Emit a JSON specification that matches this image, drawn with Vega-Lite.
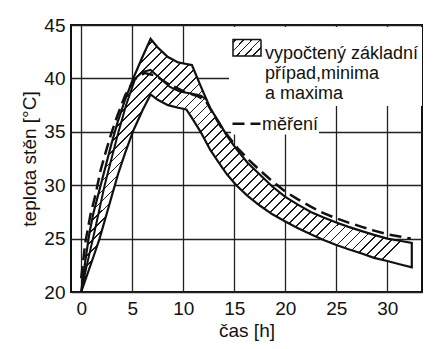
{
  "$schema": "https://vega.github.io/schema/vega-lite/v6.json",
  "width": 351,
  "height": 267,
  "autosize": {"type": "none"},
  "padding": {"left": 71, "top": 25, "right": 17, "bottom": 57},
  "background": "white",
  "datasets": {
    "band": [
      {"t": 0, "lo": 20, "hi": 20},
      {"t": 0.4, "lo": 21.1, "hi": 22.9},
      {"t": 0.8, "lo": 22.2, "hi": 25.5},
      {"t": 1.2, "lo": 23.3, "hi": 27.4},
      {"t": 1.8, "lo": 25.0, "hi": 29.6},
      {"t": 2.4, "lo": 27.0, "hi": 31.8},
      {"t": 3.0, "lo": 29.0, "hi": 34.0},
      {"t": 3.6, "lo": 31.0, "hi": 36.0},
      {"t": 4.3, "lo": 33.0, "hi": 38.0},
      {"t": 5.1, "lo": 35.1, "hi": 40.0},
      {"t": 6.0, "lo": 37.0, "hi": 42.0},
      {"t": 6.8, "lo": 38.5, "hi": 43.7},
      {"t": 7.5, "lo": 38.0, "hi": 42.9},
      {"t": 8.5, "lo": 37.5, "hi": 42.0},
      {"t": 9.5, "lo": 37.25, "hi": 41.5},
      {"t": 10.3, "lo": 37.1, "hi": 41.35},
      {"t": 10.85, "lo": 36.3, "hi": 41.25},
      {"t": 11.7, "lo": 35.0, "hi": 39.3},
      {"t": 12.65, "lo": 33.3, "hi": 37.2},
      {"t": 13.5, "lo": 32.1, "hi": 35.9},
      {"t": 14.3, "lo": 31.0, "hi": 34.6},
      {"t": 15.2, "lo": 30.0, "hi": 33.4},
      {"t": 16.3, "lo": 29.0, "hi": 32.1},
      {"t": 17.5, "lo": 28.1, "hi": 31.0},
      {"t": 18.7, "lo": 27.3, "hi": 29.9},
      {"t": 20, "lo": 26.6, "hi": 28.9},
      {"t": 21.2, "lo": 26.0, "hi": 28.2},
      {"t": 22.5, "lo": 25.4, "hi": 27.5},
      {"t": 23.7, "lo": 24.9, "hi": 27.0},
      {"t": 25, "lo": 24.4, "hi": 26.5},
      {"t": 26.2, "lo": 24.0, "hi": 26.1},
      {"t": 27.5, "lo": 23.6, "hi": 25.7},
      {"t": 28.7, "lo": 23.2, "hi": 25.35},
      {"t": 30, "lo": 22.9, "hi": 25.0},
      {"t": 31.2, "lo": 22.6, "hi": 24.8},
      {"t": 32.4, "lo": 22.3, "hi": 24.6}
    ],
    "basic": [
      {"t": 0, "T": 20},
      {"t": 0.5, "T": 22.3},
      {"t": 1.2, "T": 25.2},
      {"t": 1.8, "T": 27.8},
      {"t": 2.3, "T": 30.0},
      {"t": 3.0, "T": 32.6},
      {"t": 3.6, "T": 34.8},
      {"t": 4.4, "T": 37.5},
      {"t": 5.3, "T": 40.0},
      {"t": 6.0, "T": 40.6},
      {"t": 6.8, "T": 40.8},
      {"t": 7.75, "T": 40.0},
      {"t": 8.7, "T": 39.2},
      {"t": 9.7, "T": 38.75},
      {"t": 10.7, "T": 38.6},
      {"t": 11.7, "T": 38.4},
      {"t": 12.3, "T": 38.0}
    ],
    "measured": [
      {"t": 0, "T": 21.3},
      {"t": 0.4, "T": 24.6},
      {"t": 0.9, "T": 27.2},
      {"t": 1.4, "T": 29.1},
      {"t": 1.9, "T": 31.4},
      {"t": 2.4, "T": 33.1},
      {"t": 2.9, "T": 34.7},
      {"t": 3.5, "T": 36.4},
      {"t": 4.3, "T": 38.4},
      {"t": 5.2, "T": 39.9},
      {"t": 6.2, "T": 40.5},
      {"t": 7.2, "T": 40.3},
      {"t": 8.5, "T": 39.5},
      {"t": 10, "T": 38.8},
      {"t": 11.5, "T": 38.3},
      {"t": 12.2, "T": 37.9},
      {"t": 13.6, "T": 35.6},
      {"t": 15.3, "T": 33.5},
      {"t": 16.5, "T": 32.3},
      {"t": 17.5, "T": 31.4},
      {"t": 18.7, "T": 30.4},
      {"t": 20, "T": 29.4},
      {"t": 21.2, "T": 28.7},
      {"t": 22.5, "T": 28.0},
      {"t": 23.7, "T": 27.4},
      {"t": 25, "T": 26.9},
      {"t": 26.2, "T": 26.5},
      {"t": 27.5, "T": 26.1},
      {"t": 28.7, "T": 25.75},
      {"t": 30, "T": 25.4},
      {"t": 31.2, "T": 25.2},
      {"t": 32.3, "T": 25.0}
    ]
  },
  "encoding": {
    "x": {
      "field": "t",
      "type": "quantitative",
      "scale": {"domain": [-1, 33.4], "nice": false, "zero": false},
      "axis": {
        "values": [0, 5, 10, 15, 20, 25, 30],
        "title": "čas [h]",
        "labelPadding": 7,
        "titlePadding": 3,
        "labelFlush": false
      }
    }
  },
  "resolve": {"scale": {"strokeDash": "independent"}, "legend": {"strokeDash": "independent"}},
  "layer": [
    {
      "data": {"name": "band"},
      "mark": {
        "type": "area",
        "stroke": "#111",
        "strokeWidth": 2.2,
        "strokeJoin": "miter",
        "fill": {
          "gradient": "linear",
          "x1": 0, "y1": 0, "x2": 1, "y2": 0.766,
          "stops": [
            {"offset": 0, "color": "#fff"},
            {"offset": 0.005, "color": "#fff"}, {"offset": 0.005, "color": "#1a1a1a"}, {"offset": 0.0085, "color": "#1a1a1a"}, {"offset": 0.0085, "color": "#fff"},
            {"offset": 0.024, "color": "#fff"}, {"offset": 0.024, "color": "#1a1a1a"}, {"offset": 0.0275, "color": "#1a1a1a"}, {"offset": 0.0275, "color": "#fff"},
            {"offset": 0.043, "color": "#fff"}, {"offset": 0.043, "color": "#1a1a1a"}, {"offset": 0.0465, "color": "#1a1a1a"}, {"offset": 0.0465, "color": "#fff"},
            {"offset": 0.062, "color": "#fff"}, {"offset": 0.062, "color": "#1a1a1a"}, {"offset": 0.0655, "color": "#1a1a1a"}, {"offset": 0.0655, "color": "#fff"},
            {"offset": 0.081, "color": "#fff"}, {"offset": 0.081, "color": "#1a1a1a"}, {"offset": 0.0845, "color": "#1a1a1a"}, {"offset": 0.0845, "color": "#fff"},
            {"offset": 0.1, "color": "#fff"}, {"offset": 0.1, "color": "#1a1a1a"}, {"offset": 0.1035, "color": "#1a1a1a"}, {"offset": 0.1035, "color": "#fff"},
            {"offset": 0.119, "color": "#fff"}, {"offset": 0.119, "color": "#1a1a1a"}, {"offset": 0.1225, "color": "#1a1a1a"}, {"offset": 0.1225, "color": "#fff"},
            {"offset": 0.138, "color": "#fff"}, {"offset": 0.138, "color": "#1a1a1a"}, {"offset": 0.1415, "color": "#1a1a1a"}, {"offset": 0.1415, "color": "#fff"},
            {"offset": 0.157, "color": "#fff"}, {"offset": 0.157, "color": "#1a1a1a"}, {"offset": 0.1605, "color": "#1a1a1a"}, {"offset": 0.1605, "color": "#fff"},
            {"offset": 0.176, "color": "#fff"}, {"offset": 0.176, "color": "#1a1a1a"}, {"offset": 0.1795, "color": "#1a1a1a"}, {"offset": 0.1795, "color": "#fff"},
            {"offset": 0.195, "color": "#fff"}, {"offset": 0.195, "color": "#1a1a1a"}, {"offset": 0.1985, "color": "#1a1a1a"}, {"offset": 0.1985, "color": "#fff"},
            {"offset": 0.214, "color": "#fff"}, {"offset": 0.214, "color": "#1a1a1a"}, {"offset": 0.2175, "color": "#1a1a1a"}, {"offset": 0.2175, "color": "#fff"},
            {"offset": 0.233, "color": "#fff"}, {"offset": 0.233, "color": "#1a1a1a"}, {"offset": 0.2365, "color": "#1a1a1a"}, {"offset": 0.2365, "color": "#fff"},
            {"offset": 0.252, "color": "#fff"}, {"offset": 0.252, "color": "#1a1a1a"}, {"offset": 0.2555, "color": "#1a1a1a"}, {"offset": 0.2555, "color": "#fff"},
            {"offset": 0.271, "color": "#fff"}, {"offset": 0.271, "color": "#1a1a1a"}, {"offset": 0.2745, "color": "#1a1a1a"}, {"offset": 0.2745, "color": "#fff"},
            {"offset": 0.29, "color": "#fff"}, {"offset": 0.29, "color": "#1a1a1a"}, {"offset": 0.2935, "color": "#1a1a1a"}, {"offset": 0.2935, "color": "#fff"},
            {"offset": 0.309, "color": "#fff"}, {"offset": 0.309, "color": "#1a1a1a"}, {"offset": 0.3125, "color": "#1a1a1a"}, {"offset": 0.3125, "color": "#fff"},
            {"offset": 0.328, "color": "#fff"}, {"offset": 0.328, "color": "#1a1a1a"}, {"offset": 0.3315, "color": "#1a1a1a"}, {"offset": 0.3315, "color": "#fff"},
            {"offset": 0.347, "color": "#fff"}, {"offset": 0.347, "color": "#1a1a1a"}, {"offset": 0.3505, "color": "#1a1a1a"}, {"offset": 0.3505, "color": "#fff"},
            {"offset": 0.366, "color": "#fff"}, {"offset": 0.366, "color": "#1a1a1a"}, {"offset": 0.3695, "color": "#1a1a1a"}, {"offset": 0.3695, "color": "#fff"},
            {"offset": 0.385, "color": "#fff"}, {"offset": 0.385, "color": "#1a1a1a"}, {"offset": 0.3885, "color": "#1a1a1a"}, {"offset": 0.3885, "color": "#fff"},
            {"offset": 0.404, "color": "#fff"}, {"offset": 0.404, "color": "#1a1a1a"}, {"offset": 0.4075, "color": "#1a1a1a"}, {"offset": 0.4075, "color": "#fff"},
            {"offset": 0.423, "color": "#fff"}, {"offset": 0.423, "color": "#1a1a1a"}, {"offset": 0.4265, "color": "#1a1a1a"}, {"offset": 0.4265, "color": "#fff"},
            {"offset": 0.442, "color": "#fff"}, {"offset": 0.442, "color": "#1a1a1a"}, {"offset": 0.4455, "color": "#1a1a1a"}, {"offset": 0.4455, "color": "#fff"},
            {"offset": 0.461, "color": "#fff"}, {"offset": 0.461, "color": "#1a1a1a"}, {"offset": 0.4645, "color": "#1a1a1a"}, {"offset": 0.4645, "color": "#fff"},
            {"offset": 0.48, "color": "#fff"}, {"offset": 0.48, "color": "#1a1a1a"}, {"offset": 0.4835, "color": "#1a1a1a"}, {"offset": 0.4835, "color": "#fff"},
            {"offset": 0.499, "color": "#fff"}, {"offset": 0.499, "color": "#1a1a1a"}, {"offset": 0.5025, "color": "#1a1a1a"}, {"offset": 0.5025, "color": "#fff"},
            {"offset": 0.518, "color": "#fff"}, {"offset": 0.518, "color": "#1a1a1a"}, {"offset": 0.5215, "color": "#1a1a1a"}, {"offset": 0.5215, "color": "#fff"},
            {"offset": 0.537, "color": "#fff"}, {"offset": 0.537, "color": "#1a1a1a"}, {"offset": 0.5405, "color": "#1a1a1a"}, {"offset": 0.5405, "color": "#fff"},
            {"offset": 0.556, "color": "#fff"}, {"offset": 0.556, "color": "#1a1a1a"}, {"offset": 0.5595, "color": "#1a1a1a"}, {"offset": 0.5595, "color": "#fff"},
            {"offset": 0.575, "color": "#fff"}, {"offset": 0.575, "color": "#1a1a1a"}, {"offset": 0.5785, "color": "#1a1a1a"}, {"offset": 0.5785, "color": "#fff"},
            {"offset": 0.594, "color": "#fff"}, {"offset": 0.594, "color": "#1a1a1a"}, {"offset": 0.5975, "color": "#1a1a1a"}, {"offset": 0.5975, "color": "#fff"},
            {"offset": 0.613, "color": "#fff"}, {"offset": 0.613, "color": "#1a1a1a"}, {"offset": 0.6165, "color": "#1a1a1a"}, {"offset": 0.6165, "color": "#fff"},
            {"offset": 0.632, "color": "#fff"}, {"offset": 0.632, "color": "#1a1a1a"}, {"offset": 0.6355, "color": "#1a1a1a"}, {"offset": 0.6355, "color": "#fff"},
            {"offset": 0.651, "color": "#fff"}, {"offset": 0.651, "color": "#1a1a1a"}, {"offset": 0.6545, "color": "#1a1a1a"}, {"offset": 0.6545, "color": "#fff"},
            {"offset": 0.67, "color": "#fff"}, {"offset": 0.67, "color": "#1a1a1a"}, {"offset": 0.6735, "color": "#1a1a1a"}, {"offset": 0.6735, "color": "#fff"},
            {"offset": 0.689, "color": "#fff"}, {"offset": 0.689, "color": "#1a1a1a"}, {"offset": 0.6925, "color": "#1a1a1a"}, {"offset": 0.6925, "color": "#fff"},
            {"offset": 0.708, "color": "#fff"}, {"offset": 0.708, "color": "#1a1a1a"}, {"offset": 0.7115, "color": "#1a1a1a"}, {"offset": 0.7115, "color": "#fff"},
            {"offset": 0.727, "color": "#fff"}, {"offset": 0.727, "color": "#1a1a1a"}, {"offset": 0.7305, "color": "#1a1a1a"}, {"offset": 0.7305, "color": "#fff"},
            {"offset": 0.746, "color": "#fff"}, {"offset": 0.746, "color": "#1a1a1a"}, {"offset": 0.7495, "color": "#1a1a1a"}, {"offset": 0.7495, "color": "#fff"},
            {"offset": 0.765, "color": "#fff"}, {"offset": 0.765, "color": "#1a1a1a"}, {"offset": 0.7685, "color": "#1a1a1a"}, {"offset": 0.7685, "color": "#fff"},
            {"offset": 0.784, "color": "#fff"}, {"offset": 0.784, "color": "#1a1a1a"}, {"offset": 0.7875, "color": "#1a1a1a"}, {"offset": 0.7875, "color": "#fff"},
            {"offset": 0.803, "color": "#fff"}, {"offset": 0.803, "color": "#1a1a1a"}, {"offset": 0.8065, "color": "#1a1a1a"}, {"offset": 0.8065, "color": "#fff"},
            {"offset": 0.822, "color": "#fff"}, {"offset": 0.822, "color": "#1a1a1a"}, {"offset": 0.8255, "color": "#1a1a1a"}, {"offset": 0.8255, "color": "#fff"},
            {"offset": 0.841, "color": "#fff"}, {"offset": 0.841, "color": "#1a1a1a"}, {"offset": 0.8445, "color": "#1a1a1a"}, {"offset": 0.8445, "color": "#fff"},
            {"offset": 0.86, "color": "#fff"}, {"offset": 0.86, "color": "#1a1a1a"}, {"offset": 0.8635, "color": "#1a1a1a"}, {"offset": 0.8635, "color": "#fff"},
            {"offset": 0.879, "color": "#fff"}, {"offset": 0.879, "color": "#1a1a1a"}, {"offset": 0.8825, "color": "#1a1a1a"}, {"offset": 0.8825, "color": "#fff"},
            {"offset": 0.898, "color": "#fff"}, {"offset": 0.898, "color": "#1a1a1a"}, {"offset": 0.9015, "color": "#1a1a1a"}, {"offset": 0.9015, "color": "#fff"},
            {"offset": 0.917, "color": "#fff"}, {"offset": 0.917, "color": "#1a1a1a"}, {"offset": 0.9205, "color": "#1a1a1a"}, {"offset": 0.9205, "color": "#fff"},
            {"offset": 0.936, "color": "#fff"}, {"offset": 0.936, "color": "#1a1a1a"}, {"offset": 0.9395, "color": "#1a1a1a"}, {"offset": 0.9395, "color": "#fff"},
            {"offset": 0.955, "color": "#fff"}, {"offset": 0.955, "color": "#1a1a1a"}, {"offset": 0.9585, "color": "#1a1a1a"}, {"offset": 0.9585, "color": "#fff"},
            {"offset": 0.974, "color": "#fff"}, {"offset": 0.974, "color": "#1a1a1a"}, {"offset": 0.9775, "color": "#1a1a1a"}, {"offset": 0.9775, "color": "#fff"},
            {"offset": 0.993, "color": "#fff"}, {"offset": 0.993, "color": "#1a1a1a"}, {"offset": 0.9965, "color": "#1a1a1a"}, {"offset": 0.9965, "color": "#fff"},
            {"offset": 1, "color": "#fff"}
          ]
        }
      },
      "encoding": {
        "y": {
          "field": "hi",
          "type": "quantitative",
          "scale": {"domain": [20, 45], "nice": false, "zero": false},
          "axis": {
            "values": [20, 25, 30, 35, 40, 45],
            "title": "teplota stěn [°C]",
            "labelPadding": 6,
            "titlePadding": 4,
            "labelFlush": false
          }
        },
        "y2": {"field": "lo"}
      }
    },
    {
      "data": {"name": "basic"},
      "mark": {"type": "line", "stroke": "#111", "strokeWidth": 2},
      "encoding": {
        "y": {"field": "T", "type": "quantitative"},
        "strokeDash": {
          "datum": "vypočtený",
          "type": "nominal",
          "scale": {"domain": ["vypočtený"], "range": [[1, 0]]},
          "legend": {
            "title": null,
            "orient": "none",
            "legendX": 158,
            "legendY": 2,
            "padding": 3,
            "fillColor": "white",
            "symbolSize": 784,
            "symbolStrokeWidth": 1.5,
            "symbolStrokeColor": "#111",
            "symbolType": "M-1,-0.4L1,-0.4L1,0.79L-1,0.79Z",
            "symbolFillColor": {"expr": "{gradient: 'linear', x1: 0, y1: 0, x2: 1, y2: 0.57, stops: [{offset: 0, color: '#fff'}, {offset: 0.06, color: '#fff'}, {offset: 0.06, color: '#1a1a1a'}, {offset: 0.1, color: '#1a1a1a'}, {offset: 0.1, color: '#fff'}, {offset: 0.28, color: '#fff'}, {offset: 0.28, color: '#1a1a1a'}, {offset: 0.32, color: '#1a1a1a'}, {offset: 0.32, color: '#fff'}, {offset: 0.5, color: '#fff'}, {offset: 0.5, color: '#1a1a1a'}, {offset: 0.54, color: '#1a1a1a'}, {offset: 0.54, color: '#fff'}, {offset: 0.72, color: '#fff'}, {offset: 0.72, color: '#1a1a1a'}, {offset: 0.76, color: '#1a1a1a'}, {offset: 0.76, color: '#fff'}, {offset: 0.94, color: '#fff'}, {offset: 0.94, color: '#1a1a1a'}, {offset: 0.98, color: '#1a1a1a'}, {offset: 0.98, color: '#fff'}, {offset: 1, color: '#fff'}]}"},
            "labelOffset": 3,
            "labelBaseline": "top",
            "labelLineHeight": 19.5,
            "labelLimit": 400,
            "labelExpr": "['vypočtený základní', 'případ,minima', 'a maxima']",
            "encode": {
              "labels": {
                "dy": {"value": {"expr": "datum.value == 'měření' ? -7.7 : -21.7"}}
              }
            }
          }
        }
      }
    },
    {
      "data": {"name": "measured"},
      "mark": {"type": "line", "stroke": "#111", "strokeWidth": 2.5},
      "encoding": {
        "y": {"field": "T", "type": "quantitative"},
        "strokeDash": {
          "datum": "měření",
          "type": "nominal",
          "scale": {"domain": ["měření"], "range": [[12, 6]]},
          "legend": {
            "title": null,
            "orient": "none",
            "legendX": 160,
            "legendY": 75.5,
            "padding": 0,
            "fillColor": "white",
            "symbolSize": 784,
            "symbolStrokeWidth": 2.5,
            "symbolStrokeColor": "#111",
            "symbolFillColor": "transparent",
            "symbolType": "M-1,0.55L1,0.55",
            "labelOffset": 0,
            "labelBaseline": "top",
            "labelLimit": 400,
            "encode": {
              "labels": {
                "dy": {"value": -12}
              }
            }
          }
        }
      }
    }
  ],
  "config": {
    "font": "Liberation Sans",
    "view": {"stroke": "#111", "strokeWidth": 2},
    "axis": {
      "grid": true,
      "gridColor": "#222",
      "gridWidth": 1.3,
      "gridOpacity": 1,
      "domain": false,
      "ticks": false,
      "labelFont": "Liberation Sans",
      "labelFontSize": 19,
      "labelColor": "#111",
      "titleFont": "Liberation Sans",
      "titleFontSize": 19,
      "titleFontWeight": "normal",
      "titleColor": "#111"
    },
    "legend": {
      "labelFont": "Liberation Sans",
      "labelFontSize": 18,
      "labelColor": "#111"
    }
  }
}
